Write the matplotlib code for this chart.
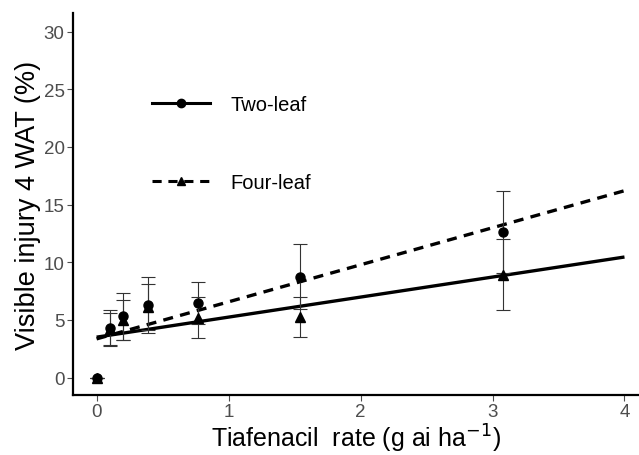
import matplotlib
matplotlib.use('Agg')
import matplotlib.pyplot as plt
from matplotlib.lines import Line2D

plt.rcParams['font.family'] = ['Liberation Sans', 'DejaVu Sans']

# tiafenacil rate (g ai/ha)
rate = [0, 0.1, 0.2, 0.39, 0.77, 1.54, 3.08]

# circles (Two-leaf) — means and error bar limits
two_leaf_mean = [0, 4.3, 5.3, 6.3, 6.45, 8.75, 12.6]
two_leaf_lo   = [0, 2.7, 3.25, 3.9, 4.6, 5.95, 9.05]
two_leaf_hi   = [0, 5.85, 7.35, 8.7, 8.3, 11.55, 16.15]

# triangles (Four-leaf)
four_leaf_mean = [0, 4.2, 5.0, 6.1, 5.2, 5.25, 8.9]
four_leaf_lo   = [0, 2.8, 3.25, 4.1, 3.45, 3.52, 5.83]
four_leaf_hi   = [0, 5.62, 6.75, 8.1, 6.98, 6.98, 11.98]

# fitted lines, as drawn
fit_x = [0, 4]
fit_solid_y = [3.5, 10.45]
fit_dashed_y = [3.35, 16.2]

x_ticks = [0, 1, 2, 3, 4]
y_ticks = [0, 5, 10, 15, 20, 25, 30]

fig = plt.figure(figsize=(6.39, 4.56), dpi=100)
ax = fig.add_axes([0.114, 0.132, 0.886, 0.837])

ax.plot(fit_x, fit_solid_y, color='black', lw=2.4, solid_capstyle='butt', zorder=2)
ax.plot(fit_x, fit_dashed_y, color='black', lw=2.4, dashes=(3.0, 2.2), zorder=2)

for mean, lo, hi in [(two_leaf_mean, two_leaf_lo, two_leaf_hi),
                     (four_leaf_mean, four_leaf_lo, four_leaf_hi)]:
    yerr = [[m - l for m, l in zip(mean, lo)], [h - m for m, h in zip(mean, hi)]]
    ax.errorbar(rate, mean, yerr=yerr, fmt='none', ecolor='#333333',
                elinewidth=0.8, capsize=5, capthick=0.8, zorder=3)

ax.plot(rate, two_leaf_mean, 'o', color='black', ms=6.5, ls='none', zorder=4)
ax.plot(rate, four_leaf_mean, '^', color='black', ms=7.5, ls='none', zorder=4)

handles = [
    Line2D([], [], color='black', lw=2.2, marker='o', ms=6),
    Line2D([], [], color='black', lw=2.2, dashes=(3.0, 2.2), marker='^', ms=6),
]
ax.legend(handles, ['Two-leaf', 'Four-leaf'], loc='upper left',
          bbox_to_anchor=(0.14, 0.785), frameon=False, fontsize=14.5,
          handlelength=2.85, handletextpad=1.05, labelspacing=2.9,
          borderpad=0, borderaxespad=0)

ax.set_xlim(-0.18, 4.11)
ax.set_ylim(-1.5, 31.6)
ax.set_xticks(x_ticks)
ax.set_yticks(y_ticks)
ax.tick_params(colors='#4d4d4d', labelsize=13.5, length=4, width=0.8, pad=2)
for side in ['top', 'right']:
    ax.spines[side].set_visible(False)
for side in ['left', 'bottom']:
    ax.spines[side].set_linewidth(1.6)
    ax.spines[side].set_color('black')

ax.set_xlabel('Tiafenacil  rate (g ai ha$^{-1}$)', fontsize=18, labelpad=1)
ax.set_ylabel('Visible injury 4 WAT (%)', fontsize=19.5, labelpad=2)

fig.savefig('out.png', dpi=100)
